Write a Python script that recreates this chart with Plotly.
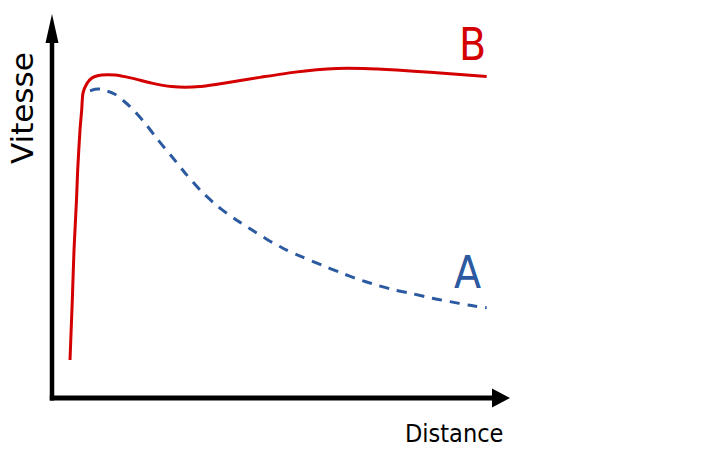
import plotly.graph_objects as go

# Curve B (red, solid) - distance (0-100) vs speed (0-100)
b_x = [4.35, 4.85, 5.22, 5.76, 6.02, 6.52, 6.89, 7.17, 7.98, 9.07, 11.24, 14.13, 17.76,
       22.11, 26.46, 29.35, 32.61, 38.41, 45.65, 52.83, 62.33, 68.04, 75.37, 82.61, 94.93]
b_y = [9.9, 25.5, 38.5, 51.6, 59.4, 69.8, 75.0, 79.4, 81.8, 83.3, 84.1, 84.1, 83.3,
       82.0, 81.1, 80.9, 81.1, 82.1, 83.5, 84.8, 85.8, 85.8, 85.4, 84.8, 83.7]

# Curve A (blue, dashed)
a_x = [8.70, 9.78, 11.24, 14.13, 17.39, 20.65, 23.48, 26.74, 29.72, 32.98, 36.59, 40.22, 43.85,
       47.46, 51.46, 55.07, 59.07, 63.04, 67.02, 71.02, 75.0, 78.98, 82.98, 86.96, 90.93, 94.93]
a_y = [80.0, 80.4, 80.4, 79.1, 75.9, 71.6, 67.2, 62.5, 58.1, 53.7, 49.8, 46.6, 43.8,
       41.1, 38.5, 36.6, 34.6, 32.7, 30.9, 29.4, 28.1, 27.1, 26.0, 25.1, 24.2, 23.5]

RED = "#d40000"
BLUE = "#2c5aa0"
FONT = "DejaVu Sans Condensed, Liberation Sans Narrow, DejaVu Sans, sans-serif"

fig = go.Figure()
fig.add_trace(go.Scatter(x=b_x, y=b_y, mode="lines", line=dict(color=RED, width=3, shape="spline", smoothing=0.6),
                         hoverinfo="skip", showlegend=False))
fig.add_trace(go.Scatter(x=a_x, y=a_y, mode="lines", line=dict(color=BLUE, width=3, dash="10px,8px", shape="spline", smoothing=0.6),
                         hoverinfo="skip", showlegend=False))

W, H = 713, 474
# plot area in page pixels: x 50..510, y 14..398 (page body margin removed below)
L, R, T, B = 50, W - 510, 14, H - 398
pw, ph = W - L - R, H - T - B  # 460 x 384

def px(x):
    return (x - L) / pw

def py(y):
    return (H - B - y) / ph

ax_col = "#000000"
shapes = [
    # vertical axis line
    dict(type="line", xref="paper", yref="paper", x0=px(52), x1=px(52), y0=py(400.5), y1=py(40),
         line=dict(color=ax_col, width=4.5)),
    # vertical arrow head
    dict(type="path", xref="paper", yref="paper",
         path=f"M {px(45.5)} {py(43)} L {px(52)} {py(14)} L {px(58.5)} {py(43)} Z",
         fillcolor=ax_col, line=dict(color=ax_col, width=0)),
    # horizontal axis line
    dict(type="line", xref="paper", yref="paper", x0=px(49.8), x1=px(494), y0=py(398), y1=py(398),
         line=dict(color=ax_col, width=5)),
    # horizontal arrow head
    dict(type="path", xref="paper", yref="paper",
         path=f"M {px(492)} {py(388.5)} L {px(510)} {py(398)} L {px(492)} {py(407.5)} Z",
         fillcolor=ax_col, line=dict(color=ax_col, width=0)),
]

annotations = [
    dict(text="Vitesse", xref="paper", yref="paper", x=px(22), y=py(108), textangle=-90,
         showarrow=False, xanchor="center", yanchor="middle",
         font=dict(family="DejaVu Sans, sans-serif", size=31, color="#000000")),
    dict(text="Distance", xref="paper", yref="paper", x=px(453.5), y=py(433), showarrow=False,
         xanchor="center", yanchor="middle", font=dict(family=FONT, size=25, color="#000000")),
    dict(text="B", xref="paper", yref="paper", x=px(472.5), y=py(45), showarrow=False,
         xanchor="center", yanchor="middle", font=dict(family=FONT, size=44, color=RED)),
    dict(text="A", xref="paper", yref="paper", x=px(467.5), y=py(272), showarrow=False,
         xanchor="center", yanchor="middle", font=dict(family=FONT, size=44, color=BLUE)),
]

fig.update_layout(
    width=W, height=H,
    margin=dict(l=L, r=R, t=T, b=B, pad=0),
    paper_bgcolor="white", plot_bgcolor="white",
    xaxis=dict(range=[0, 100], visible=False, fixedrange=True),
    yaxis=dict(range=[0, 100], visible=False, fixedrange=True),
    shapes=shapes, annotations=annotations,
    hovermode=False,
)

fig.write_html("out.html", config={"displayModeBar": False, "staticPlot": True},
               post_script="document.body.style.margin='0';")
